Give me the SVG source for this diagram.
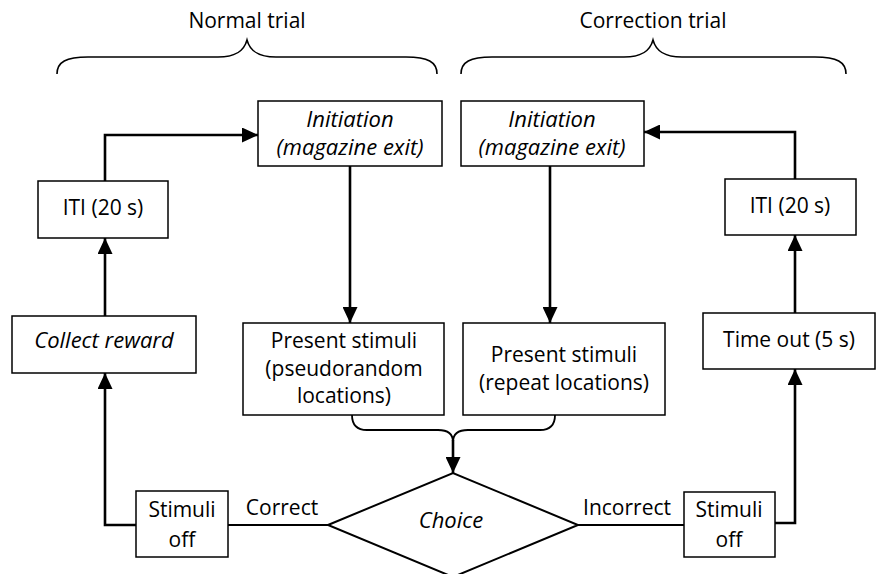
<svg xmlns="http://www.w3.org/2000/svg" width="876" height="574" viewBox="0 0 876 574">
  <style>
    text { font-family: "Open Sans", "Noto Sans", "Liberation Sans", sans-serif; font-size: 21px; fill: #000; text-anchor: middle; }
    .it { font-style: italic; font-size: 22px; }
    .box { fill: #fff; stroke: #000; stroke-width: 1.5; }
    .flow { fill: none; stroke: #000; stroke-width: 2.6; }
    .thin { fill: none; stroke: #000; stroke-width: 1.8; }
    .brace { fill: none; stroke: #000; stroke-width: 1.6; }
  </style>
  <defs>
    <marker id="head" markerUnits="userSpaceOnUse" markerWidth="16" markerHeight="15" refX="16" refY="7.5" orient="auto">
      <path d="M0,0 L16,7.5 L0,15 z" fill="#000"/>
    </marker>
  </defs>
  <rect width="876" height="574" fill="#fff"/>

  <!-- section braces and headings -->
  <g id="normal-trial">
    <path class="brace" d="M57,74 C57,62 66,57 88,57 L218,57 C236,57 244,51 247,40 C250,51 258,57 276,57 L406,57 C428,57 437,62 437,74"/>
    <text x="247" y="28">Normal trial</text>
  </g>
  <g id="correction-trial">
    <path class="brace" d="M461,74 C461,62 470,57 492,57 L624,57 C642,57 650,51 653,40 C656,51 664,57 682,57 L815,57 C837,57 846,62 846,74"/>
    <text x="653" y="28">Correction trial</text>
  </g>

  <!-- connectors -->
  <g id="connectors">
    <path class="flow" d="M105,181 L105,135 L258,135" marker-end="url(#head)"/>
    <path class="flow" d="M105,316 L105,238" marker-end="url(#head)"/>
    <path class="flow" d="M136,525 L105,525 L105,373" marker-end="url(#head)"/>
    <path class="flow" d="M350,166 L350,323" marker-end="url(#head)"/>
    <path class="flow" d="M550,166 L550,323" marker-end="url(#head)"/>
    <path class="flow" d="M795,179 L795,132 L644,132" marker-end="url(#head)"/>
    <path class="flow" d="M795,313 L795,235" marker-end="url(#head)"/>
    <path class="flow" d="M775,523 L795,523 L795,369" marker-end="url(#head)"/>
    <path class="thin" d="M352,415 Q352,430 367,430 L438,430 Q453,430 453,442"/>
    <path class="thin" d="M555,415 Q555,430 540,430 L468,430 Q453,430 453,442"/>
    <path class="flow" d="M453,440 L453,473" marker-end="url(#head)"/>
    <path class="thin" d="M228,525 L328,525"/>
    <path class="thin" d="M578,525 L684,525"/>
    <text x="282" y="515">Correct</text>
    <text x="627" y="515">Incorrect</text>
  </g>

  <!-- nodes -->
  <g id="init-normal">
    <rect class="box" x="258" y="101" width="184" height="65"/>
    <text class="it" x="350" y="127">Initiation</text>
    <text class="it" x="350" y="155">(magazine exit)</text>
  </g>
  <g id="init-correction">
    <rect class="box" x="461" y="101" width="183" height="65"/>
    <text class="it" x="552" y="127">Initiation</text>
    <text class="it" x="552" y="155">(magazine exit)</text>
  </g>
  <g id="iti-normal">
    <rect class="box" x="38" y="181" width="130" height="57"/>
    <text x="103" y="215">ITI (20 s)</text>
  </g>
  <g id="iti-correction">
    <rect class="box" x="725" y="179" width="131" height="56"/>
    <text x="790" y="213">ITI (20 s)</text>
  </g>
  <g id="collect-reward">
    <rect class="box" x="12" y="316" width="184" height="57"/>
    <text class="it" x="104" y="348">Collect reward</text>
  </g>
  <g id="time-out">
    <rect class="box" x="703" y="313" width="172" height="56"/>
    <text x="789" y="347">Time out (5 s)</text>
  </g>
  <g id="stimuli-pseudorandom">
    <rect class="box" x="243" y="323" width="201" height="92"/>
    <text x="344" y="348">Present stimuli</text>
    <text x="344" y="376">(pseudorandom</text>
    <text x="344" y="403">locations)</text>
  </g>
  <g id="stimuli-repeat">
    <rect class="box" x="463" y="323" width="202" height="92"/>
    <text x="564" y="362">Present stimuli</text>
    <text x="564" y="390">(repeat locations)</text>
  </g>
  <g id="stimuli-off-correct">
    <rect class="box" x="136" y="491" width="92" height="66"/>
    <text x="182" y="517">Stimuli</text>
    <text x="182" y="547">off</text>
  </g>
  <g id="stimuli-off-incorrect">
    <rect class="box" x="684" y="492" width="91" height="65"/>
    <text x="729" y="517">Stimuli</text>
    <text x="729" y="547">off</text>
  </g>
  <g id="choice">
    <path d="M328,525 L453,473 L578,525 L453,577 z" fill="#fff" stroke="#000" stroke-width="2"/>
    <text class="it" x="451" y="528">Choice</text>
  </g>
</svg>
